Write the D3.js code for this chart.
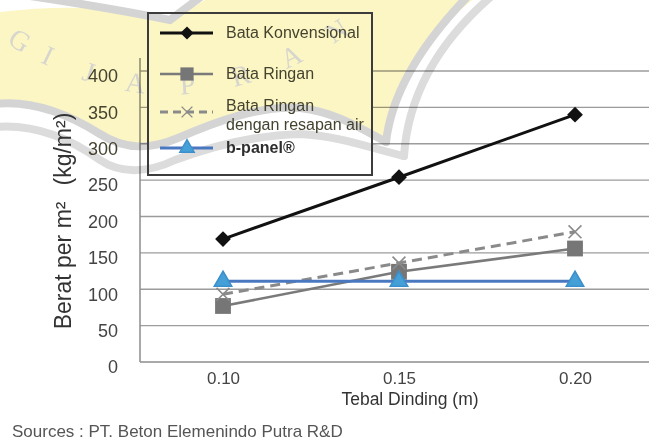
<!DOCTYPE html>
<html>
<head>
<meta charset="utf-8">
<script src="https://cdn.jsdelivr.net/npm/d3@7"></script>
<style>
  html, body { margin: 0; padding: 0; background: #fff; }
  svg { display: block; font-family: "Liberation Sans", Arial, sans-serif; }
</style>
</head>
<body>
<svg id="chart" width="649" height="443"></svg>
<script>
// Wall thickness (m) and weight per square metre (kg/m²) for each wall type
const thickness = [0.10, 0.15, 0.20];
const bataKonvensional = [169, 254, 340];
const bataRingan = [77, 124, 156];
const bataRinganResapan = [93, 136, 179];
const bPanel = [111, 111, 111];

const yTicks = [0, 50, 100, 150, 200, 250, 300, 350, 400];
const xTicks = [0.10, 0.15, 0.20];
const xTickLabels = ["0.10", "0.15", "0.20"];

const legendLabels = [
  ["Bata Konvensional"],
  ["Bata Ringan"],
  ["Bata Ringan", "dengan resapan air"],
  ["b-panel®"]
];

// Decorative watermark lettering
const watermarkLetters = ["G", "I", "J", "A", "P", "R", "A", "N"];
const watermarkOffsets = [0, 32, 76, 124, 176, 230, 284, 336];

const plot = { left: 140, right: 649, top: 71, bottom: 362 };

const svg = d3.select("#chart");

const x = d3.scaleLinear().domain([0.10, 0.20]).range([223, 575]);
const y = d3.scaleLinear().domain([0, 400]).range([plot.bottom, plot.top]);

svg.append("rect").attr("width", 649).attr("height", 443).attr("fill", "#fff");

// Horizontal gridlines
svg.append("g")
  .selectAll("line")
  .data(yTicks.filter(d => d > 0))
  .join("line")
  .attr("x1", plot.left).attr("x2", plot.right)
  .attr("y1", d => y(d)).attr("y2", d => y(d))
  .attr("stroke", "#9c9c9c").attr("stroke-width", 1.4);

// Axis lines
svg.append("line")
  .attr("x1", plot.left).attr("x2", plot.left)
  .attr("y1", plot.bottom).attr("y2", plot.top - 13)
  .attr("stroke", "#8c8c8c").attr("stroke-width", 1.5);
svg.append("line")
  .attr("x1", plot.left).attr("x2", plot.right)
  .attr("y1", plot.bottom).attr("y2", plot.bottom)
  .attr("stroke", "#8c8c8c").attr("stroke-width", 1.5);

// Legend background (hides the gridlines behind it)
const legendBox = { x: 148, y: 13, w: 224, h: 162 };
svg.append("rect")
  .attr("x", legendBox.x).attr("y", legendBox.y)
  .attr("width", legendBox.w).attr("height", legendBox.h)
  .attr("fill", "#fff");

// Watermark emblem, multiplied over the background layer
const wm = svg.append("g").style("mix-blend-mode", "multiply");

wm.append("path")
  .attr("d", "M0,12 Q100,0 170,21 L205,0 L472,0 C425,40 392,90 386,140 C360,128 335,112 300,108 C260,105 215,122 178,138 C150,150 125,150 100,134 C65,112 30,100 0,104 Z")
  .attr("fill", "#fbf6c4");

const bandStyle = p => p.attr("fill", "none").attr("stroke", "#d4d4d4").attr("stroke-width", 8).attr("stroke-linecap", "round");

wm.append("path")
  .attr("d", "M-5,104 C30,100 65,112 100,134 C125,150 150,150 178,138 C215,122 260,105 300,108 C335,112 360,128 386,142")
  .call(bandStyle);
wm.append("path")
  .attr("d", "M386,142 C392,90 425,40 470,-6")
  .call(bandStyle);
wm.append("path")
  .attr("d", "M-5,127 C30,124 65,135 100,160 C122,175 150,172 175,160 C215,145 260,135 300,134 C340,136 370,148 404,156")
  .call(bandStyle).attr("stroke", "#dcdcdc");
wm.append("path")
  .attr("d", "M404,156 C408,95 440,40 494,-6")
  .call(bandStyle).attr("stroke", "#dcdcdc");
wm.append("path")
  .attr("d", "M30,-4 Q110,8 170,20 L202,-4")
  .call(bandStyle);

const arcGuide = wm.append("path")
  .attr("d", "M20,40 Q180,135 340,28")
  .attr("fill", "none").attr("stroke", "none");
const guide = arcGuide.node();
watermarkLetters.forEach((ch, i) => {
  const s = watermarkOffsets[i];
  const p = guide.getPointAtLength(s);
  const q = guide.getPointAtLength(s + 1);
  const ang = Math.atan2(q.y - p.y, q.x - p.x) * 180 / Math.PI;
  wm.append("text")
    .attr("transform", `translate(${p.x},${p.y}) rotate(${ang})`)
    .attr("text-anchor", "middle")
    .attr("dy", "0.35em")
    .attr("fill", "#d6d5ce")
    .style("font-family", "'Liberation Serif', 'DejaVu Serif', serif")
    .style("font-size", "28px")
    .text(ch);
});

// Y axis labels
const yAxis = svg.append("g")
  .attr("transform", `translate(${plot.left},0)`)
  .call(d3.axisLeft(y).tickValues(yTicks).tickSize(0).tickPadding(22));
yAxis.select(".domain").remove();
yAxis.selectAll("text")
  .attr("y", 5)
  .attr("fill", d => d >= 300 ? "#45432f" : "#444")
  .style("font-size", "18px")
  .style("font-family", "'Liberation Sans', Arial, sans-serif");

// X axis labels
const xAxis = svg.append("g")
  .attr("transform", `translate(0,${plot.bottom})`)
  .call(d3.axisBottom(x).tickValues(xTicks).tickFormat((d, i) => xTickLabels[i]).tickSize(0).tickPadding(10));
xAxis.select(".domain").remove();
xAxis.selectAll("text")
  .attr("fill", "#444")
  .style("font-size", "17px")
  .style("font-family", "'Liberation Sans', Arial, sans-serif");

// Axis titles and source note
svg.append("text")
  .attr("x", 410).attr("y", 405)
  .attr("text-anchor", "middle")
  .attr("fill", "#333")
  .style("font-size", "17.5px")
  .text("Tebal Dinding (m)");

const yTitle = svg.append("text")
  .attr("transform", "translate(71,221) rotate(-90)")
  .attr("text-anchor", "middle")
  .attr("fill", "#333")
  .style("font-size", "23px");
yTitle.append("tspan").text("Berat per m²");
yTitle.append("tspan").attr("dx", 16).text("(kg/m²)");

svg.append("text")
  .attr("x", 12).attr("y", 437)
  .attr("fill", "#555")
  .style("font-size", "17px")
  .text("Sources : PT. Beton Elemenindo Putra R&D");

// Series definitions
const series = [
  { values: bataKonvensional, color: "#111", width: 3, dash: null,
    symbol: d3.symbolSquare, size: 125, rotate: 45, fill: "#111", stroke: "none" },
  { values: bataRingan, color: "#7a7a7a", width: 2.6, dash: null,
    symbol: d3.symbolSquare, size: 250, rotate: 0, fill: "#767676", stroke: "none" },
  { values: bataRinganResapan, color: "#8a8a8a", width: 3, dash: "10,6",
    symbol: d3.symbolX, size: 110, rotate: 0, fill: "none", stroke: "#8a8a8a" },
  { values: bPanel, color: "#4a78c0", width: 3, dash: null,
    symbol: d3.symbolTriangle, size: 130, rotate: 0, fill: "#45a0d8", stroke: "#3d8fcc" }
];

const line = d3.line().x((d, i) => x(thickness[i])).y(d => y(d));

series.forEach(s => {
  svg.append("path")
    .datum(s.values)
    .attr("d", line)
    .attr("fill", "none")
    .attr("stroke", s.color)
    .attr("stroke-width", s.width)
    .attr("stroke-dasharray", s.dash);
  svg.append("g")
    .selectAll("path")
    .data(s.values)
    .join("path")
    .attr("d", d3.symbol().type(s.symbol).size(s.size))
    .attr("transform", (d, i) => `translate(${x(thickness[i])},${y(d)}) rotate(${s.rotate})`)
    .attr("fill", s.fill)
    .attr("stroke", s.stroke)
    .attr("stroke-width", 1.6);
});

// Legend border and entries
const legend = svg.append("g");
legend.append("rect")
  .attr("x", legendBox.x).attr("y", legendBox.y)
  .attr("width", legendBox.w).attr("height", legendBox.h)
  .attr("fill", "none").attr("stroke", "#3c3c3c").attr("stroke-width", 2);

const legendRows = [33, 74, 112, 148];
series.forEach((s, i) => {
  const ly = legendRows[i];
  legend.append("line")
    .attr("x1", 160).attr("x2", 213).attr("y1", ly).attr("y2", ly)
    .attr("stroke", s.color).attr("stroke-width", s.width)
    .attr("stroke-dasharray", s.dash ? "8,5" : null);
  legend.append("path")
    .attr("d", d3.symbol().type(s.symbol).size(s.size * 0.7))
    .attr("transform", `translate(187,${ly}) rotate(${s.rotate})`)
    .attr("fill", s.fill).attr("stroke", s.stroke).attr("stroke-width", 1.4);
  const lines = legendLabels[i];
  const t = legend.append("text")
    .attr("fill", i === 3 ? "#2e2e2e" : "#45432f")
    .style("font-size", "16px")
    .style("font-weight", i === 3 ? "bold" : "normal");
  if (lines.length === 1) {
    t.attr("x", 226).attr("y", ly + 5).text(lines[0]);
  } else {
    t.append("tspan").attr("x", 226).attr("y", ly - 1).text(lines[0]);
    t.append("tspan").attr("x", 226).attr("y", ly + 18).text(lines[1]);
  }
});
</script>
</body>
</html>
